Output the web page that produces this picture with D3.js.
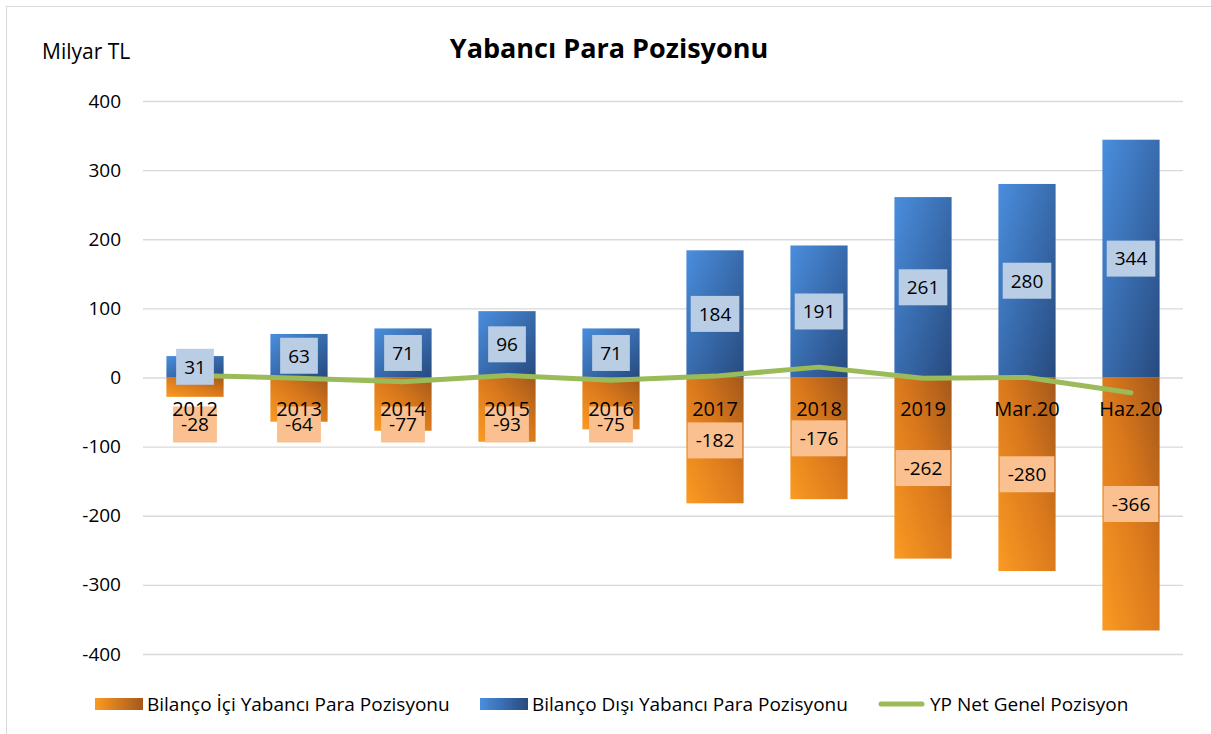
<!DOCTYPE html>
<html>
<head>
<meta charset="utf-8">
<script src="https://cdn.jsdelivr.net/npm/d3@7"></script>
<style>
  body { margin: 0; background: #fff; }
  text { font-family: "Open Sans", "Liberation Sans", sans-serif; fill: #000; }
</style>
</head>
<body>
<script>
const width = 1211, height = 734;

// data
const categories = ['2012', '2013', '2014', '2015', '2016', '2017', '2018', '2019', 'Mar.20', 'Haz.20'];
const bilancoIci = [-28, -64, -77, -93, -75, -182, -176, -262, -280, -366];
const bilancoDisi = [31, 63, 71, 96, 71, 184, 191, 261, 280, 344];
const netGenel = [3, -1, -6, 3, -4, 2, 15, -1, 0, -22];
const yTicks = [400, 300, 200, 100, 0, -100, -200, -300, -400];
const seriesNames = ['Bilanço İçi Yabancı Para Pozisyonu', 'Bilanço Dışı Yabancı Para Pozisyonu', 'YP Net Genel Pozisyon'];

let svg = d3
  .select('body')
  .append('svg')
  .attr('width', width)
  .attr('height', height);

// outer frame
svg.append('rect')
  .attr('x', 6.5).attr('y', 6.5)
  .attr('width', width + 10).attr('height', height + 10)
  .attr('fill', 'none')
  .attr('stroke', '#d9d9d9');

const defs = svg.append('defs');

// bar gradients
let og = defs.append('linearGradient').attr('id', 'orangeGrad')
  .attr('x1', 1).attr('y1', 0).attr('x2', 0).attr('y2', 1);
og.append('stop').attr('offset', '0%').attr('stop-color', '#a5581a');
og.append('stop').attr('offset', '45%').attr('stop-color', '#d9781c');
og.append('stop').attr('offset', '100%').attr('stop-color', '#fb9a22');

let bg = defs.append('linearGradient').attr('id', 'blueGrad')
  .attr('x1', 0).attr('y1', 0).attr('x2', 1).attr('y2', 1);
bg.append('stop').attr('offset', '0%').attr('stop-color', '#4a8ede');
bg.append('stop').attr('offset', '100%').attr('stop-color', '#274a7e');

let olg = defs.append('linearGradient').attr('id', 'orangeLeg')
  .attr('x1', 0).attr('y1', 0).attr('x2', 1).attr('y2', 0);
olg.append('stop').attr('offset', '0%').attr('stop-color', '#fb9a22');
olg.append('stop').attr('offset', '100%').attr('stop-color', '#a5581a');

let blg = defs.append('linearGradient').attr('id', 'blueLeg')
  .attr('x1', 0).attr('y1', 0).attr('x2', 1).attr('y2', 0);
blg.append('stop').attr('offset', '0%').attr('stop-color', '#4a8ede');
blg.append('stop').attr('offset', '100%').attr('stop-color', '#274a7e');

// scales
const x = d3.scaleBand().domain(categories).range([143, 1183]).paddingInner(0.45).paddingOuter(0.225);
const y = d3.scaleLinear().domain([-400, 400]).range([654, 101]);

// title
svg.append('text')
  .attr('x', 609).attr('y', 58)
  .attr('text-anchor', 'middle')
  .style('font-size', '27px')
  .style('font-weight', 'bold')
  .text('Yabancı Para Pozisyonu');

svg.append('text')
  .attr('x', 42).attr('y', 59)
  .style('font-size', '21px')
  .text('Milyar TL');

// y axis with gridlines
const yAxis = svg.append('g')
  .attr('transform', 'translate(143,0)')
  .call(d3.axisLeft(y).tickValues(yTicks).tickSize(-1040).tickPadding(22).tickFormat((d) => String(d)));
yAxis.select('.domain').remove();
yAxis.selectAll('.tick line').attr('stroke', '#d9d9d9').attr('stroke-width', 1.3);
yAxis.selectAll('.tick text')
  .style('font-size', '19px')
  .style('font-family', '"Open Sans", sans-serif')
  .attr('fill', '#000');

// bars
svg.append('g').selectAll('rect')
  .data(categories)
  .enter()
  .append('rect')
  .attr('x', (d) => x(d))
  .attr('width', x.bandwidth())
  .attr('y', y(0))
  .attr('height', (d, i) => y(bilancoIci[i]) - y(0))
  .attr('fill', 'url(#orangeGrad)');

svg.append('g').selectAll('rect')
  .data(categories)
  .enter()
  .append('rect')
  .attr('x', (d) => x(d))
  .attr('width', x.bandwidth())
  .attr('y', (d, i) => y(bilancoDisi[i]))
  .attr('height', (d, i) => y(0) - y(bilancoDisi[i]))
  .attr('fill', 'url(#blueGrad)');

// net line
const line = d3.line()
  .x((d, i) => x(categories[i]) + x.bandwidth() / 2)
  .y((d) => y(d));
svg.append('path')
  .datum(netGenel)
  .attr('d', line)
  .attr('fill', 'none')
  .attr('stroke', '#9bbb59')
  .attr('stroke-width', 5)
  .attr('stroke-linecap', 'round')
  .attr('stroke-linejoin', 'round');

// value labels with boxes
function addLabels(values, boxColor, posFn) {
  let g = svg.append('g').selectAll('g')
    .data(values)
    .enter()
    .append('g')
    .attr('transform', (d, i) => 'translate(' + (x(categories[i]) + x.bandwidth() / 2) + ',' + posFn(d) + ')');
  let rects = g.append('rect').attr('fill', boxColor);
  let texts = g.append('text')
    .attr('text-anchor', 'middle')
    .attr('dy', '0.36em')
    .style('font-size', '19px')
    .text((d) => d);
  texts.each(function (d, i) {
    const w = this.getComputedTextLength() + 16;
    d3.select(rects.nodes()[i])
      .attr('x', -w / 2).attr('y', -18)
      .attr('width', w).attr('height', 36);
  });
}

addLabels(bilancoDisi, '#b9cde5', (d) => (y(d) + y(0)) / 2);
addLabels(bilancoIci, '#fac090', (d) => Math.max((y(d) + y(0)) / 2, y(0) + 47));

// category labels (drawn on top, like the original)
svg.append('g').selectAll('text')
  .data(categories)
  .enter()
  .append('text')
  .attr('x', (d) => x(d) + x.bandwidth() / 2)
  .attr('y', y(0) + 38)
  .attr('text-anchor', 'middle')
  .style('font-size', '20px')
  .text((d) => d);

// legend
const legend = svg.append('g').attr('transform', 'translate(0,704)');
const legendItems = [
  { x: 95, fill: 'url(#orangeLeg)', line: false },
  { x: 480, fill: 'url(#blueLeg)', line: false },
  { x: 878, fill: '#9bbb59', line: true }
];
legendItems.forEach(function (item, i) {
  if (item.line) {
    legend.append('line')
      .attr('x1', item.x + 3).attr('x2', item.x + 44)
      .attr('y1', 0).attr('y2', 0)
      .attr('stroke', item.fill)
      .attr('stroke-width', 5)
      .attr('stroke-linecap', 'round');
  } else {
    legend.append('rect')
      .attr('x', item.x).attr('y', -6)
      .attr('width', 48).attr('height', 12)
      .attr('fill', item.fill);
  }
  legend.append('text')
    .attr('x', item.x + 52)
    .attr('dy', '0.36em')
    .style('font-size', '19px')
    .text(seriesNames[i]);
});
</script>
</body>
</html>
